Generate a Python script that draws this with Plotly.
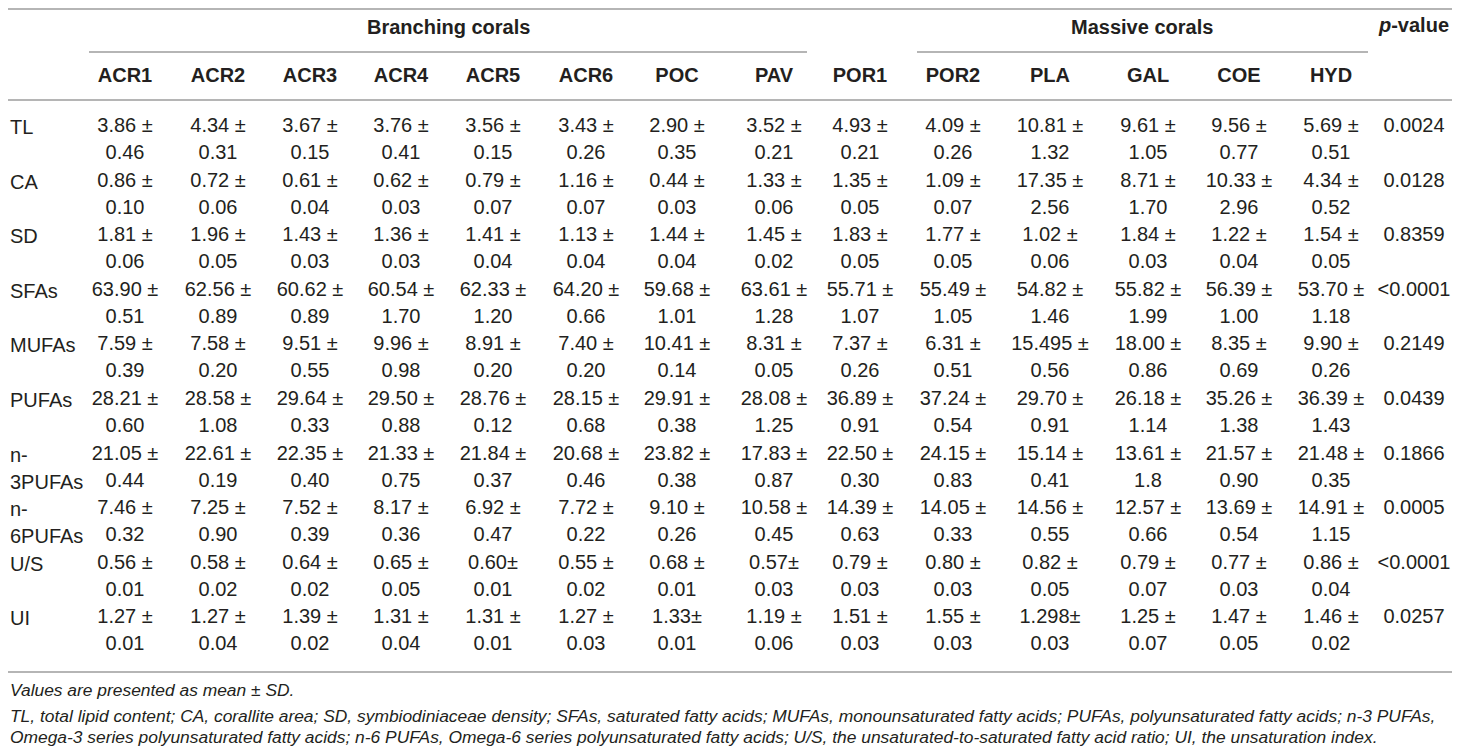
import plotly.graph_objects as go

# ---- table content ----
columns = ["ACR1", "ACR2", "ACR3", "ACR4", "ACR5", "ACR6", "POC", "PAV",
           "POR1", "POR2", "PLA", "GAL", "COE", "HYD"]
row_labels = [["TL"], ["CA"], ["SD"], ["SFAs"], ["MUFAs"], ["PUFAs"],
              ["n-", "3PUFAs"], ["n-", "6PUFAs"], ["U/S"], ["UI"]]

tl_mean = ["3.86", "4.34", "3.67", "3.76", "3.56", "3.43", "2.90", "3.52", "4.93", "4.09", "10.81", "9.61", "9.56", "5.69"]
tl_sd = ["0.46", "0.31", "0.15", "0.41", "0.15", "0.26", "0.35", "0.21", "0.21", "0.26", "1.32", "1.05", "0.77", "0.51"]
ca_mean = ["0.86", "0.72", "0.61", "0.62", "0.79", "1.16", "0.44", "1.33", "1.35", "1.09", "17.35", "8.71", "10.33", "4.34"]
ca_sd = ["0.10", "0.06", "0.04", "0.03", "0.07", "0.07", "0.03", "0.06", "0.05", "0.07", "2.56", "1.70", "2.96", "0.52"]
sd_mean = ["1.81", "1.96", "1.43", "1.36", "1.41", "1.13", "1.44", "1.45", "1.83", "1.77", "1.02", "1.84", "1.22", "1.54"]
sd_sd = ["0.06", "0.05", "0.03", "0.03", "0.04", "0.04", "0.04", "0.02", "0.05", "0.05", "0.06", "0.03", "0.04", "0.05"]
sfa_mean = ["63.90", "62.56", "60.62", "60.54", "62.33", "64.20", "59.68", "63.61", "55.71", "55.49", "54.82", "55.82", "56.39", "53.70"]
sfa_sd = ["0.51", "0.89", "0.89", "1.70", "1.20", "0.66", "1.01", "1.28", "1.07", "1.05", "1.46", "1.99", "1.00", "1.18"]
mufa_mean = ["7.59", "7.58", "9.51", "9.96", "8.91", "7.40", "10.41", "8.31", "7.37", "6.31", "15.495", "18.00", "8.35", "9.90"]
mufa_sd = ["0.39", "0.20", "0.55", "0.98", "0.20", "0.20", "0.14", "0.05", "0.26", "0.51", "0.56", "0.86", "0.69", "0.26"]
pufa_mean = ["28.21", "28.58", "29.64", "29.50", "28.76", "28.15", "29.91", "28.08", "36.89", "37.24", "29.70", "26.18", "35.26", "36.39"]
pufa_sd = ["0.60", "1.08", "0.33", "0.88", "0.12", "0.68", "0.38", "1.25", "0.91", "0.54", "0.91", "1.14", "1.38", "1.43"]
n3_mean = ["21.05", "22.61", "22.35", "21.33", "21.84", "20.68", "23.82", "17.83", "22.50", "24.15", "15.14", "13.61", "21.57", "21.48"]
n3_sd = ["0.44", "0.19", "0.40", "0.75", "0.37", "0.46", "0.38", "0.87", "0.30", "0.83", "0.41", "1.8", "0.90", "0.35"]
n6_mean = ["7.46", "7.25", "7.52", "8.17", "6.92", "7.72", "9.10", "10.58", "14.39", "14.05", "14.56", "12.57", "13.69", "14.91"]
n6_sd = ["0.32", "0.90", "0.39", "0.36", "0.47", "0.22", "0.26", "0.45", "0.63", "0.33", "0.55", "0.66", "0.54", "1.15"]
us_mean = ["0.56", "0.58", "0.64", "0.65", "0.60", "0.55", "0.68", "0.57", "0.79", "0.80", "0.82", "0.79", "0.77", "0.86"]
us_sd = ["0.01", "0.02", "0.02", "0.05", "0.01", "0.02", "0.01", "0.03", "0.03", "0.03", "0.05", "0.07", "0.03", "0.04"]
ui_mean = ["1.27", "1.27", "1.39", "1.31", "1.31", "1.27", "1.33", "1.19", "1.51", "1.55", "1.298", "1.25", "1.47", "1.46"]
ui_sd = ["0.01", "0.04", "0.02", "0.04", "0.01", "0.03", "0.01", "0.06", "0.03", "0.03", "0.03", "0.07", "0.05", "0.02"]

p_values = ["0.0024", "0.0128", "0.8359", "<0.0001", "0.2149", "0.0439", "0.1866", "0.0005", "<0.0001", "0.0257"]

# cells printed without a space before the ± sign (row index, column index)
tight = {(8, 4), (8, 7), (9, 6), (9, 10)}

notes = [
    "Values are presented as mean ± SD.",
    "TL, total lipid content; CA, corallite area; SD, symbiodiniaceae density; SFAs, saturated fatty acids; "
    "MUFAs, monounsaturated fatty acids; PUFAs, polyunsaturated fatty acids; n-3 PUFAs,",
    "Omega-3 series polyunsaturated fatty acids; n-6 PUFAs, Omega-6 series polyunsaturated fatty acids; "
    "U/S, the unsaturated-to-saturated fatty acid ratio; UI, the unsaturation index.",
]

means = [tl_mean, ca_mean, sd_mean, sfa_mean, mufa_mean, pufa_mean, n3_mean, n6_mean, us_mean, ui_mean]
sds = [tl_sd, ca_sd, sd_sd, sfa_sd, mufa_sd, pufa_sd, n3_sd, n6_sd, us_sd, ui_sd]

# ---- layout (page pixel space; the page body adds an 8px margin all round) ----
W, H = 1460, 754
OFF = 8
col_x = [125, 218, 310, 401, 493, 586, 677, 774, 860, 953, 1050, 1148, 1239, 1331]
p_x = 1414
row_top = 127
row_step = 54.6
line_step = 27
header_y = 77
group_y = 27
note_y = [690, 716, 737]

FONT = "Liberation Sans, Arial, Helvetica, sans-serif"
INK = "#231f20"
RULE = "#b5b5b5"
FS = 20

xs, ys, texts = [], [], []
for i in range(len(means)):
    y0 = row_top + i * row_step
    for j, x in enumerate(col_x):
        sep = "±" if (i, j) in tight else " ±"
        xs += [x, x]
        ys += [y0, y0 + line_step]
        texts += [means[i][j] + sep, sds[i][j]]
    xs.append(p_x)
    ys.append(y0)
    texts.append(p_values[i])

fig = go.Figure()
fig.add_trace(go.Scatter(
    x=xs, y=ys, text=texts, mode="text",
    textposition="middle center",
    textfont=dict(family=FONT, size=FS, color=INK),
    hoverinfo="skip", showlegend=False, cliponaxis=False,
))

# column headers
fig.add_trace(go.Scatter(
    x=col_x + [p_x], y=[header_y] * len(columns) + [group_y],
    text=["<b>%s</b>" % c for c in columns] + ["<b><i>p</i>-value</b>"],
    mode="text", textposition="middle center",
    textfont=dict(family=FONT, size=FS, color=INK),
    hoverinfo="skip", showlegend=False, cliponaxis=False,
))

annotations = []
annotations.append(dict(x=448, y=group_y, text="<b>Branching corals</b>", showarrow=False,
                        xanchor="center", yanchor="middle"))
annotations.append(dict(x=1142, y=group_y, text="<b>Massive corals</b>", showarrow=False,
                        xanchor="center", yanchor="middle"))

for i, lab in enumerate(row_labels):
    y0 = row_top + i * row_step
    for k, part in enumerate(lab):
        annotations.append(dict(x=OFF, y=y0 + k * line_step, text=part, showarrow=False,
                                xanchor="left", yanchor="middle"))

for t, y in zip(notes, note_y):
    annotations.append(dict(x=OFF, y=y, text="<i>%s</i>" % t, showarrow=False,
                            xanchor="left", yanchor="middle",
                            font=dict(family=FONT, size=17.4, color=INK)))

R = W - OFF  # right edge of what shows on the page
shapes = []
for y in [OFF + 1, 100, 672]:
    shapes.append(dict(type="line", x0=OFF, x1=R, y0=y, y1=y, line=dict(color=RULE, width=2)))
shapes.append(dict(type="line", x0=89, x1=807, y0=52, y1=52, line=dict(color=RULE, width=2)))
shapes.append(dict(type="line", x0=917, x1=1368, y0=52, y1=52, line=dict(color=RULE, width=2)))

fig.update_layout(
    width=W - 2 * OFF, height=H - 2 * OFF,
    margin=dict(l=0, r=0, t=0, b=0),
    paper_bgcolor="white", plot_bgcolor="white",
    font=dict(family=FONT, size=FS, color=INK),
    xaxis=dict(range=[OFF, R], visible=False, fixedrange=True),
    yaxis=dict(range=[H - OFF, OFF], visible=False, fixedrange=True),
    annotations=annotations,
    shapes=shapes,
)

fig.write_html("out.html")
